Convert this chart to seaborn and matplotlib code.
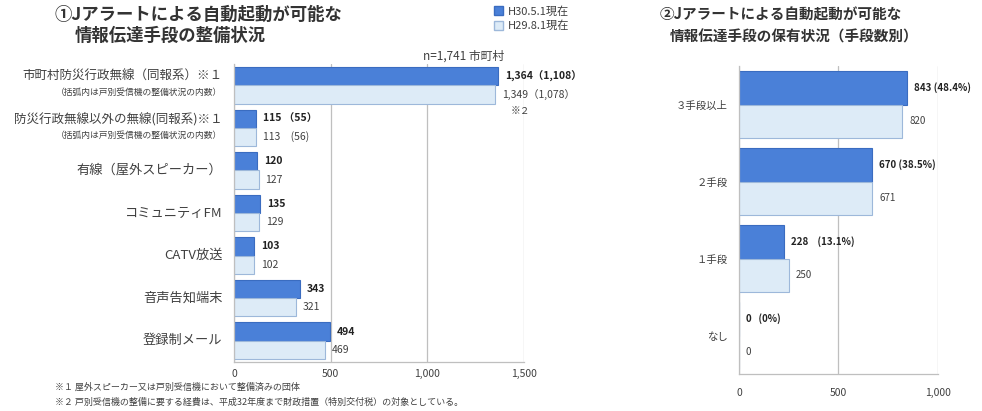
import pandas as pd
import seaborn as sns
import matplotlib.pyplot as plt
import matplotlib.transforms as mtransforms
from matplotlib.patches import Patch
import numpy as np

# --- data ---
dates = ['H30.5.1現在', 'H29.8.1現在']

items = ['市町村防災行政無線（同報系）※１', '防災行政無線以外の無線(同報系)※１',
         '有線（屋外スピーカー）', 'コミュニティFM', 'CATV放送', '音声告知端末', '登録制メール']
sub_notes = ['（括弧内は戸別受信機の整備状況の内数）', '（括弧内は戸別受信機の整備状況の内数）',
             '', '', '', '', '']
h30 = [1364, 115, 120, 135, 103, 343, 494]
h29 = [1349, 113, 127, 129, 102, 321, 469]
h30_labels = ['1,364（1,108）', '115 （55）', '120', '135', '103', '343', '494']
h29_labels = ['1,349（1,078）', '113　(56)', '127', '129', '102', '321', '469']

counts = ['３手段以上', '２手段', '１手段', 'なし']
cnt_h30 = [843, 670, 228, 0]
cnt_h29 = [820, 671, 250, 0]
cnt_h30_labels = ['843 (48.4%)', '670 (38.5%)', '228    (13.1%)', '0   (0%)']
cnt_h29_labels = ['820', '671', '250', '0']

dark = '#4A80D8'
dark_edge = '#3A6CC0'
light = '#DDEBF7'
light_edge = '#9DB8DA'
grey = '#BFBFBF'
txt = '#404040'

sns.set_style('white')
plt.rcParams['font.family'] = ['Noto Sans CJK JP', 'DejaVu Sans']

df1 = pd.DataFrame({'item': items * 2, 'count': h30 + h29,
                    'date': [dates[0]] * len(items) + [dates[1]] * len(items)})
df2 = pd.DataFrame({'num': counts * 2, 'count': cnt_h30 + cnt_h29,
                    'date': [dates[0]] * len(counts) + [dates[1]] * len(counts)})

fig = plt.figure(figsize=(9.82, 4.11), dpi=100)
ax1 = fig.add_axes([0.2383, 0.1192, 0.2953, 0.7251])
ax2 = fig.add_axes([0.7525, 0.090, 0.2026, 0.7494])


def style_axes(ax, n, xmax, ticks):
    for c, ec in zip(ax.containers, [dark_edge, light_edge]):
        for p in c:
            p.set_edgecolor(ec)
            p.set_linewidth(0.8)
    ax.set_xlim(0, xmax)
    ax.set_xticks(ticks)
    ax.set_xticklabels([f'{t:,}' for t in ticks])
    ax.xaxis.grid(True, color=grey, lw=0.9)
    ax.set_axisbelow(True)
    for s in ['top', 'right']:
        ax.spines[s].set_visible(False)
    for s in ['left', 'bottom']:
        ax.spines[s].set_color(grey)
        ax.spines[s].set_linewidth(0.9)
    ax.set_yticks(np.arange(-0.5, n, 1), minor=True)
    ax.tick_params(axis='y', which='major', length=0)
    ax.tick_params(axis='y', which='minor', length=3, color=grey, direction='out')
    ax.tick_params(axis='x', length=3, color=grey, labelsize=7.5, labelcolor=txt, pad=2)
    ax.set_xlabel('')
    ax.set_ylabel('')
    ax.set_ylim(n - 0.5, -0.5)


# --- left chart ---
sns.barplot(data=df1, y='item', x='count', hue='date', hue_order=dates, orient='h',
            palette=[dark, light], saturation=1, width=0.86, ax=ax1, legend=False)
style_axes(ax1, len(items), 1500, [0, 500, 1000, 1500])
ax1.set_yticklabels([])
ax1.bar_label(ax1.containers[0], labels=h30_labels, padding=5, fontsize=7.5,
              fontweight='bold', color='#222222')
ax1.bar_label(ax1.containers[1], labels=h29_labels, padding=5, fontsize=7.5, color=txt)
trans1 = mtransforms.blended_transform_factory(ax1.transAxes, ax1.transData)
for i, (name, sub) in enumerate(zip(items, sub_notes)):
    if sub:
        ax1.text(-0.04, i - 0.2, name, transform=trans1, ha='right', va='center',
                 fontsize=9, color=txt)
        ax1.text(-0.04, i + 0.17, sub, transform=trans1, ha='right', va='center',
                 fontsize=6.3, color=txt)
    else:
        ax1.text(-0.04, i, name, transform=trans1, ha='right', va='center',
                 fontsize=9.5, color=txt)
ax1.text(1480, 0.6, '※２', ha='center', va='center', fontsize=7, color=txt,
         clip_on=False)
ax1.text(0.65, 1.005, 'n=1,741 市町村', transform=ax1.transAxes, ha='left',
         va='bottom', fontsize=8.5, color=txt)

# --- right chart ---
sns.barplot(data=df2, y='num', x='count', hue='date', hue_order=dates, orient='h',
            palette=[dark, light], saturation=1, width=0.86, ax=ax2, legend=False)
style_axes(ax2, len(counts), 1000, [0, 500, 1000])
ax2.tick_params(axis='x', pad=7)
ax2.tick_params(axis='y', labelsize=7.5, labelcolor=txt, pad=8)
ax2.bar_label(ax2.containers[0], labels=cnt_h30_labels, padding=5, fontsize=7,
              fontweight='bold', color='#222222')
ax2.bar_label(ax2.containers[1], labels=cnt_h29_labels, padding=5, fontsize=7,
              color=txt)

# --- titles ---
fig.text(0.056, 0.965, '①Jアラートによる自動起動が可能な', fontsize=12.5,
         fontweight='bold', color='#333333', va='center')
fig.text(0.076, 0.912, '情報伝達手段の整備状況', fontsize=12.5,
         fontweight='bold', color='#333333', va='center')
fig.text(0.672, 0.965, '②Jアラートによる自動起動が可能な', fontsize=10.5,
         fontweight='bold', color='#333333', va='center')
fig.text(0.682, 0.912, '情報伝達手段の保有状況（手段数別）', fontsize=10.5,
         fontweight='bold', color='#333333', va='center')

# --- legend ---
handles = [Patch(facecolor=dark, edgecolor=dark_edge),
           Patch(facecolor=light, edgecolor=light_edge)]
fig.legend(handles, dates, loc='upper left', bbox_to_anchor=(0.493, 1.01),
           frameon=False, fontsize=8, handlelength=0.8, handleheight=0.8,
           handletextpad=0.4, labelspacing=0.35, labelcolor=txt)

# --- footnotes ---
fig.text(0.056, 0.058, '※１ 屋外スピーカー又は戸別受信機において整備済みの団体',
         fontsize=6.5, color=txt, va='center')
fig.text(0.056, 0.022, '※２ 戸別受信機の整備に要する経費は、平成32年度まで財政措置（特別交付税）の対象としている。',
         fontsize=6.5, color=txt, va='center')

fig.savefig('out.png', dpi=100)
